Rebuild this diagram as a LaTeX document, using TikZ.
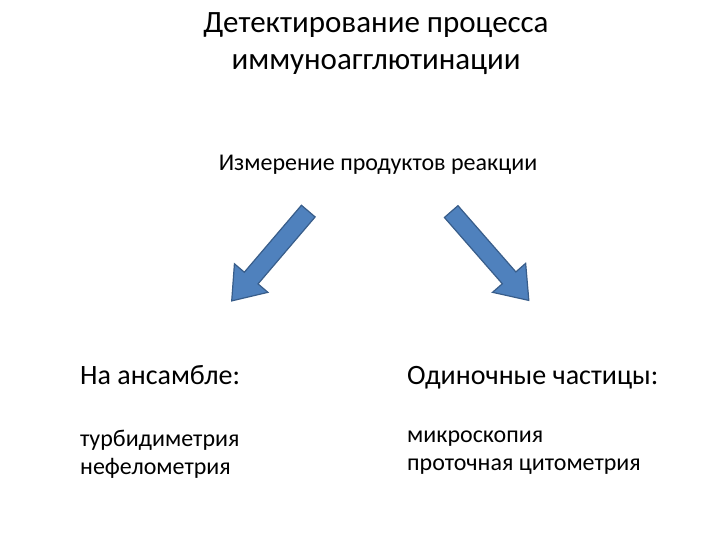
\documentclass[tikz,border=0pt]{standalone}
\usepackage{fontspec}
\setmainfont{Carlito}
\definecolor{afill}{HTML}{4F81BD}
\definecolor{aline}{HTML}{385D8A}
\begin{document}
\begin{tikzpicture}[x=1pt,y=-1pt,
  bigarrow/.style={fill=afill, draw=aline, line width=1.2pt, line join=miter},
  txt/.style={inner sep=0pt, anchor=base west}]
\useasboundingbox (0,0) rectangle (720,540);
\node[align=center, font=\fontsize{31}{37}\selectfont] (title) at (376,44) {Детектирование процесса\\иммуноагглютинации};
\node[font=\fontsize{24}{28}\selectfont] (meas) at (378,165) {Измерение продуктов реакции};
\begin{scope}[shift={(270,256)}, x={(-0.649pt,-0.761pt)}, y={(0.761pt,-0.649pt)}]
\draw[bigarrow] (-59,-9)--(29,-9)--(29,-22)--(59,0)--(29,22)--(29,9)--(-59,9)--cycle;
\end{scope}
\begin{scope}[shift={(490,256)}, x={(0.658pt,-0.753pt)}, y={(0.753pt,0.658pt)}]
\draw[bigarrow] (-59,-9)--(29,-9)--(29,-22)--(59,0)--(29,22)--(29,9)--(-59,9)--cycle;
\end{scope}
\node[txt, font=\fontsize{28}{32}\selectfont] (ens) at (80,384) {На ансамбле:};
\node[txt, font=\fontsize{28}{32}\selectfont] (single) at (407,384) {Одиночные частицы:};
\node[txt, font=\fontsize{24}{27}\selectfont] (l1) at (80,446) {турбидиметрия};
\node[txt, font=\fontsize{24}{27}\selectfont] (l2) at (80,474) {нефелометрия};
\node[txt, font=\fontsize{24}{27}\selectfont] (r1) at (407,442) {микроскопия};
\node[txt, font=\fontsize{24}{27}\selectfont] (r2) at (407,470) {проточная цитометрия};
\end{tikzpicture}
\end{document}
